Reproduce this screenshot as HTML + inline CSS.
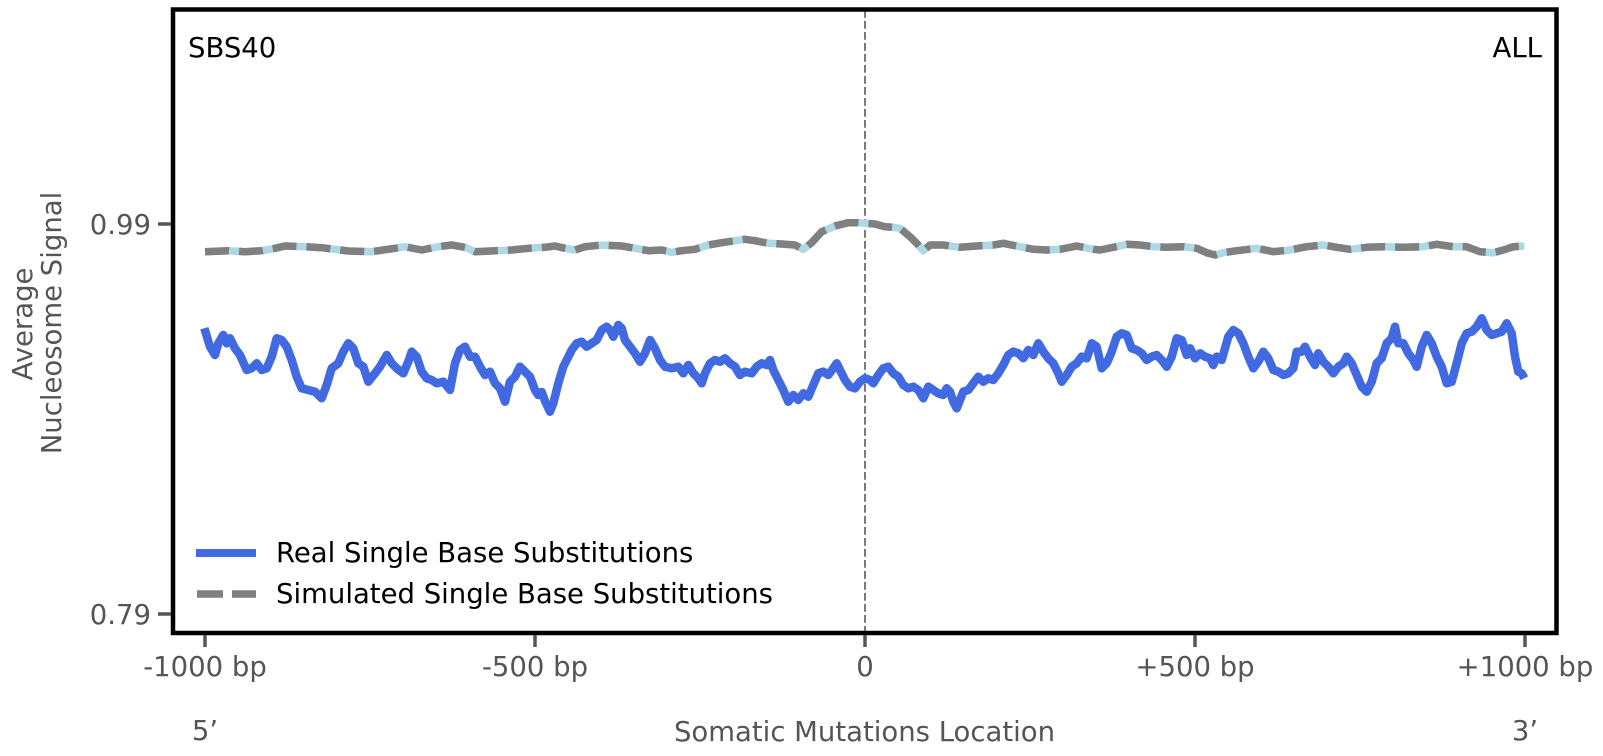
<!DOCTYPE html>
<html><head><meta charset="utf-8"><style>
html,body{margin:0;padding:0;background:#fff;}
svg{display:block;}
text{font-family:"DejaVu Sans","Liberation Sans",sans-serif;font-size:27.5px;}
</style></head><body>
<svg width="1603" height="756" viewBox="0 0 1603 756" xmlns="http://www.w3.org/2000/svg">
<rect width="1603" height="756" fill="#fff"/>
<!-- center dashed line -->
<line x1="865" y1="10" x2="865" y2="633" stroke="#7a7a7a" stroke-width="2" stroke-dasharray="7.7 3.3"/>
<!-- simulated: lightblue under gray dashes -->
<polyline fill="none" stroke="#add8e6" stroke-width="7.5" stroke-linejoin="round" points="205,251.7 228.3,250.7 245,251.7 261.7,250.7 275,248.3 285,246 305,246.7 321.7,247.7 335,249.3 348.3,251 371.7,251.7 395,248.3 405,246.7 421.7,250 438.3,246.7 451.7,245 465,247.3 475,251.7 495,250.7 511.7,250 528.3,248.3 545,247.3 555,246 565,248.3 575,250 585,246.7 601.7,245 621.7,246 635,248.3 648.3,250.7 661.7,250 671.7,252.3 681.7,250.7 695,249.3 708.3,245 721.7,242.7 735,240.7 745,239.3 755,240.7 768.3,243.3 781.7,244 795,245 803.3,249.3 811.7,242.7 821.7,231.7 835,226 848.3,222.7 858.3,222.7 865,223.3 875,224 885,226.7 893.3,227.3 900,228.3 910,236.7 916.7,243.3 923.3,250.7 930,245 943.3,245 960,247.3 976.7,246 993.3,245 1003.3,243.3 1020,246.7 1033.3,249.3 1046.7,250 1060,249.3 1076.7,246 1093.3,249.3 1100,250 1113.3,247.3 1126.7,244.3 1140,245 1153.3,246.7 1166.7,247.3 1183.3,246.7 1196.7,248.3 1206.7,252.7 1215,255 1223.3,252.7 1236.7,250.7 1256.7,248.3 1273.3,251.7 1290,250 1306.7,246.7 1323.3,245 1336.7,247.3 1350,249.3 1366.7,247.3 1383.3,246.7 1403.3,247.3 1423.3,246.7 1436.7,244.3 1453.3,246.7 1466.7,246.7 1480,251.7 1493.3,252.7 1503.3,250 1513.3,246.7 1524.3,246"/>
<polyline fill="none" stroke="#808080" stroke-width="7.5" stroke-dasharray="24 10" stroke-linejoin="round" points="205,251.7 228.3,250.7 245,251.7 261.7,250.7 275,248.3 285,246 305,246.7 321.7,247.7 335,249.3 348.3,251 371.7,251.7 395,248.3 405,246.7 421.7,250 438.3,246.7 451.7,245 465,247.3 475,251.7 495,250.7 511.7,250 528.3,248.3 545,247.3 555,246 565,248.3 575,250 585,246.7 601.7,245 621.7,246 635,248.3 648.3,250.7 661.7,250 671.7,252.3 681.7,250.7 695,249.3 708.3,245 721.7,242.7 735,240.7 745,239.3 755,240.7 768.3,243.3 781.7,244 795,245 803.3,249.3 811.7,242.7 821.7,231.7 835,226 848.3,222.7 858.3,222.7 865,223.3 875,224 885,226.7 893.3,227.3 900,228.3 910,236.7 916.7,243.3 923.3,250.7 930,245 943.3,245 960,247.3 976.7,246 993.3,245 1003.3,243.3 1020,246.7 1033.3,249.3 1046.7,250 1060,249.3 1076.7,246 1093.3,249.3 1100,250 1113.3,247.3 1126.7,244.3 1140,245 1153.3,246.7 1166.7,247.3 1183.3,246.7 1196.7,248.3 1206.7,252.7 1215,255 1223.3,252.7 1236.7,250.7 1256.7,248.3 1273.3,251.7 1290,250 1306.7,246.7 1323.3,245 1336.7,247.3 1350,249.3 1366.7,247.3 1383.3,246.7 1403.3,247.3 1423.3,246.7 1436.7,244.3 1453.3,246.7 1466.7,246.7 1480,251.7 1493.3,252.7 1503.3,250 1513.3,246.7 1524.3,246"/>
<!-- real -->
<polyline fill="none" stroke="#4169e1" stroke-width="8.5" stroke-linejoin="round" points="204.3,328.3 210,346.7 215,355 218.3,343.3 223.3,335 226.7,343.3 230,338.3 235,348.3 240,355 246.7,370 251.7,368.3 256.7,363.3 261.7,370 266.7,368.3 271.7,356.7 276.7,338.3 281.7,340 286.7,346.7 291.7,360 296.7,376.7 301.7,388.3 308.3,390 315,391.7 321.7,398.3 326.7,385 331.7,368.3 338.3,363.3 343.3,351.7 348.3,343.3 353.3,348.3 358.3,363.3 363.3,366.7 368.3,381.7 375,373.3 380,366.7 386.7,355 391.7,363.3 396.7,368.3 403.3,373.3 408.3,361.7 411.7,351.7 416.7,356.7 421.7,371.7 426.7,378.3 431.7,380 436.7,383.3 443.3,381.7 450,390 455,363.3 460,350 465,346.7 470,356.7 475,356.7 480,366.7 485,375 490,371.7 495,383.3 500,388.3 505,401.7 510,381.7 515,376.7 520,366.7 525,371.7 530,376.7 535,390 538.3,395 541.7,392 545,401 550,411.7 553.3,403.3 558.3,383.3 563.3,366.7 566.7,360 571.7,350 576.7,343.3 581.7,341.7 586.7,346.7 591.7,343.3 596.7,340 601.7,330 606.7,326.7 610,330 613.3,336.7 618.3,325 621.7,328.3 625,340 630,346.7 635,353.3 640,361.7 645,353.3 650,340 655,348.3 660,360 665,366.7 671.7,368.3 678.3,366.7 683.3,373.3 688.3,365 693.3,373.3 698.3,378.3 701.7,383.3 705,373.3 710,363.3 715,360 720,361.7 725,358.3 730,363.3 735,366.7 740,375 745,371.7 751.7,373.3 756.7,366.7 761.7,363.3 766.7,365 770,360 773.3,370 778.3,380 783.3,390 788.3,401.7 793.3,395 798.3,400 803.3,393.3 808.3,396.7 813.3,385 818.3,373.3 823.3,371.7 828.3,375 833.3,368.3 836.7,363.3 840,370 845,380 850,386.7 855,388.3 860,381.7 865,378.3 870,380 873.3,383.3 878.3,375 883.3,368.3 888.3,366.7 893.3,373.3 898.3,376.7 903.3,385 908.3,388.3 913.3,386.7 918.3,390 923.3,398.3 928.3,386.7 933.3,390 938.3,393.3 943.3,395 946.7,388.3 950,391.7 953.3,401.7 956.7,408.3 960,400 963.3,391.7 968.3,390 973.3,383.3 978.3,376.7 983.3,381.7 988.3,378.3 993.3,380 998.3,373.3 1003.3,365 1008.3,355 1013.3,351.7 1018.3,353.3 1023.3,358.3 1028.3,350 1033.3,355 1038.3,343.3 1043.3,351.7 1048.3,358.3 1053.3,363.3 1058.3,373.3 1061.7,381.7 1066.7,375 1071.7,366.7 1076.7,363.3 1081.7,356.7 1086.7,358.3 1091.7,343.3 1096.7,346.7 1101.7,368.3 1106.7,363.3 1111.7,351.7 1116.7,336.7 1121.7,333.3 1126.7,335 1131.7,348.3 1136.7,350 1141.7,353.3 1146.7,360 1151.7,356.7 1156.7,355 1161.7,360 1166.7,366.7 1171.7,356.7 1176.7,338.3 1181.7,340 1186.7,355 1190,348.3 1195,358.3 1200,353.3 1205,356.7 1210,358.3 1213.3,365 1216.7,356.7 1221.7,360 1225,348.3 1228.3,336.7 1233.3,330 1238.3,333.3 1243.3,343.3 1248.3,356.7 1253.3,368.3 1258.3,361.7 1263.3,351.7 1268.3,358.3 1273.3,370 1278.3,371.7 1283.3,375 1288.3,373.3 1293.3,368.3 1296.7,351.7 1301.7,351.7 1305,346.7 1310,356.7 1315,365 1318.3,353.3 1323.3,361.7 1328.3,366.7 1333.3,373.3 1338.3,366.7 1343.3,363.3 1346.7,356.7 1351.7,363.3 1356.7,375 1361.7,386.7 1366.7,391.7 1371.7,381.7 1376.7,363.3 1381.7,358.3 1386.7,343.3 1391.7,338.3 1395,326.7 1398.3,343.3 1403.3,343.3 1408.3,353.3 1413.3,360 1416.7,366.7 1421.7,346.7 1426.7,335 1431.7,343.3 1436.7,356.7 1441.7,366.7 1446.7,383.3 1451.7,381.7 1456.7,363.3 1461.7,343.3 1466.7,333.3 1471.7,331.7 1476.7,326.7 1481.7,318.3 1486.7,330 1491.7,335 1496.7,333.3 1501.7,331.7 1506.7,323.3 1511.7,333.3 1515,356.7 1518.3,371.7 1521.7,373.3 1524.3,378.3"/>
<!-- frame -->
<rect x="173" y="9.5" width="1383.5" height="623.5" fill="none" stroke="#000" stroke-width="4.5"/>
<!-- ticks -->
<g stroke="#555" stroke-width="3.5">
<line x1="158" y1="224" x2="171" y2="224"/>
<line x1="158" y1="614" x2="171" y2="614"/>
<line x1="205" y1="635" x2="205" y2="647"/>
<line x1="535" y1="635" x2="535" y2="647"/>
<line x1="865" y1="635" x2="865" y2="647"/>
<line x1="1195" y1="635" x2="1195" y2="647"/>
<line x1="1525" y1="635" x2="1525" y2="647"/>
</g>
<g fill="#555">
<text x="151" y="234" text-anchor="end">0.99</text>
<text x="151" y="624" text-anchor="end">0.79</text>
<text x="205" y="676" text-anchor="middle">-1000 bp</text>
<text x="535" y="676" text-anchor="middle">-500 bp</text>
<text x="865" y="676" text-anchor="middle">0</text>
<text x="1195" y="676" text-anchor="middle">+500 bp</text>
<text x="1525" y="676" text-anchor="middle">+1000 bp</text>
<text x="205" y="740" text-anchor="middle">5’</text>
<text x="1525" y="740" text-anchor="middle">3’</text>
<text x="864.5" y="741" text-anchor="middle">Somatic Mutations Location</text>
<text x="32" y="324" text-anchor="middle" transform="rotate(-90 32 324)">Average</text>
<text x="61" y="323" text-anchor="middle" transform="rotate(-90 61 323)">Nucleosome Signal</text>
</g>
<text x="188" y="57" fill="#000">SBS40</text>
<text x="1542" y="57" fill="#000" text-anchor="end">ALL</text>
<!-- legend -->
<line x1="196" y1="553" x2="256" y2="553" stroke="#4169e1" stroke-width="8"/>
<line x1="197" y1="594" x2="256" y2="594" stroke="#808080" stroke-width="7.5" stroke-dasharray="26 9"/>
<text x="276" y="562" fill="#000">Real Single Base Substitutions</text>
<text x="276" y="603" fill="#000">Simulated Single Base Substitutions</text>
</svg>
</body></html>
